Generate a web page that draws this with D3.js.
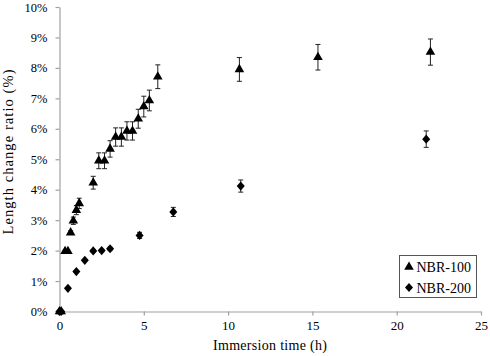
<!DOCTYPE html>
<html><head><meta charset="utf-8">
<script src="https://cdn.jsdelivr.net/npm/d3@7"></script>
<style>body{margin:0;background:#fff}svg{display:block}</style>
</head><body>
<svg id="c" width="490" height="356"></svg>
<script>
const seriesNames = ["NBR-100", "NBR-200"];
const nbr100Time = [0, 0.1, 0.33, 0.5, 0.66, 0.82, 1.0, 1.17, 2.0, 2.33, 2.67, 3.0, 3.33, 3.67, 4.0, 4.33, 4.67, 5.0, 5.33, 5.83, 10.67, 15.33, 22.0];
const nbr100Ratio = [0, 0, 1.98, 1.98, 2.59, 2.98, 3.33, 3.55, 4.23, 4.95, 4.95, 5.34, 5.73, 5.73, 5.93, 5.93, 6.33, 6.73, 6.93, 7.71, 7.95, 8.35, 8.52];
const nbr100Err = [0, 0, 0.03, 0.03, 0.06, 0.12, 0.15, 0.17, 0.21, 0.26, 0.26, 0.27, 0.3, 0.3, 0.3, 0.3, 0.31, 0.34, 0.34, 0.39, 0.39, 0.42, 0.43];
const nbr200Time = [0, 0.1, 0.5, 1.0, 1.5, 2.0, 2.5, 3.0, 4.75, 6.75, 10.75, 21.75];
const nbr200Ratio = [0, 0, 0.76, 1.31, 1.68, 1.99, 2.0, 2.06, 2.50, 3.27, 4.12, 5.66];
const nbr200Err = [0, 0, 0.02, 0.03, 0.03, 0.04, 0.04, 0.05, 0.1, 0.15, 0.2, 0.27];
const xTicks = [0, 5, 10, 15, 20, 25];
const yTicks = [0, 1, 2, 3, 4, 5, 6, 7, 8, 9, 10];

const svg = d3.select("#c");
const x = d3.scaleLinear().domain([0, 25]).range([59.5, 481]);
const y = d3.scaleLinear().domain([0, 10]).range([311.5, 7]);
const serif = "'Liberation Serif','Times New Roman',serif";
const axisCol = "#a0a0a0";

// axes
const xAx = svg.append("g").attr("transform", "translate(0,311.5)")
  .call(d3.axisBottom(x).tickValues(xTicks).tickSize(4).tickSizeOuter(0).tickPadding(5).tickFormat(d3.format("d")));
const yAx = svg.append("g").attr("transform", "translate(59.5,0)")
  .call(d3.axisLeft(y).tickValues(yTicks).tickSize(4).tickSizeOuter(0).tickPadding(8).tickFormat(d => d + "%"));
[xAx, yAx].forEach(g => {
  g.attr("font-family", serif);
  g.selectAll("path,line").attr("stroke", axisCol).attr("stroke-width", 1.2);
  g.selectAll("text").attr("fill", "#000").style("font-family", serif);
});
xAx.selectAll("text").attr("font-size", 13);
yAx.selectAll("text").attr("font-size", 12.5);

// titles
svg.append("text").attr("x", 270).attr("y", 350).attr("text-anchor", "middle")
  .style("font-family", serif).attr("font-size", 14).attr("textLength", 114).attr("lengthAdjust", "spacing")
  .text("Immersion time (h)");
svg.append("text").attr("transform", "translate(13,152) rotate(-90)").attr("text-anchor", "middle")
  .style("font-family", serif).attr("font-size", 14.5).attr("textLength", 165).attr("lengthAdjust", "spacing")
  .text("Length change ratio (%)");

const tri = d3.symbol().type(d3.symbolTriangle).size(40);
const diamondType = { draw(ctx, size) { const w = 4, h = 4.6; ctx.moveTo(0, -h); ctx.lineTo(w, 0); ctx.lineTo(0, h); ctx.lineTo(-w, 0); ctx.closePath(); } };
const dia = d3.symbol().type(diamondType).size(1);

function drawSeries(ts, vs, es, sym) {
  const data = ts.map((t, i) => ({t, v: vs[i], e: es[i]}));
  const g = svg.append("g");
  data.filter(d => d.e > 0).forEach(d => {
    const x0 = x(d.t), y1 = y(d.v + d.e), y2 = y(d.v - d.e);
    g.append("line").attr("x1", x0).attr("x2", x0).attr("y1", y1).attr("y2", y2).attr("stroke", "#222").attr("stroke-width", 1);
    [y1, y2].forEach(yy => g.append("line").attr("x1", x0 - 2.5).attr("x2", x0 + 2.5).attr("y1", yy).attr("y2", yy).attr("stroke", "#222").attr("stroke-width", 1));
  });
  g.selectAll("path.m").data(data).join("path").attr("class", "m")
    .attr("transform", d => `translate(${x(d.t)},${y(d.v)})`)
    .attr("d", sym).attr("fill", "#000");
}
drawSeries(nbr100Time, nbr100Ratio, nbr100Err, tri);
drawSeries(nbr200Time, nbr200Ratio, nbr200Err, dia);

// legend
const lg = svg.append("g");
lg.append("rect").attr("x", 399.5).attr("y", 255.5).attr("width", 77).attr("height", 42)
  .attr("fill", "#fff").attr("stroke", "#555").attr("stroke-width", 1);
const syms = [tri, dia];
seriesNames.forEach((n, i) => {
  const cy = 267 + i * 20.5;
  lg.append("path").attr("transform", `translate(409,${cy})`).attr("d", syms[i]).attr("fill", "#000");
  lg.append("text").attr("x", 416.5).attr("y", cy + 5).style("font-family", serif).attr("font-size", 14).text(n);
});
</script>
</body></html>
